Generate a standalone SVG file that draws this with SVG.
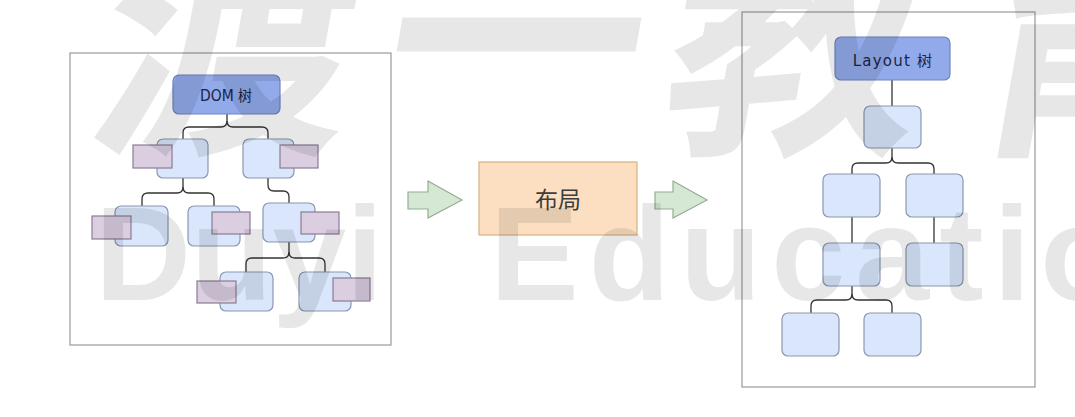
<svg xmlns="http://www.w3.org/2000/svg" width="1075" height="417" viewBox="0 0 1075 417">
  <defs>
    <style>
      .frame { fill: none; stroke: #9a9a9a; stroke-width: 1.2; }
      .node { fill: #d9e6fb; stroke: #8a98b0; stroke-width: 1.2; }
      .root { fill: #92aaea; stroke: #6e84bd; stroke-width: 1.2; }
      .attr { fill: #dacee0; stroke: #8a7c94; stroke-width: 1.2; }
      .edge { fill: none; stroke: #333; stroke-width: 1.3; }
      .arrow { fill: #d5e8d4; stroke: #94ad92; stroke-width: 1.2; }
      .proc { fill: #fcdfc1; stroke: #d6b283; stroke-width: 1.2; }
      .lbl { font-family: "DejaVu Sans", "Noto Sans CJK SC", sans-serif; fill: #1c2444; }
      .wm { fill: #000; opacity: 0.09; }
    </style>
  </defs>
  <rect width="1075" height="417" fill="#ffffff"/>

  <!-- frames -->
  <rect class="frame" x="70" y="53" width="321" height="292"/>
  <rect class="frame" x="742" y="12" width="293" height="375"/>

  <!-- connectors -->
  <g id="connectors">
    <path class="edge" d="M227,114 L227,121 Q227,127 221,127 L189,127 Q183,127 183,133 L183,139"/>
    <path class="edge" d="M227,121 Q227,127 233,127 L262,127 Q268,127 268,133 L268,139"/>
    <path class="edge" d="M183,178 L183,187 Q183,193 177,193 L148,193 Q142,193 142,199 L142,206"/>
    <path class="edge" d="M183,187 Q183,193 189,193 L208,193 Q214,193 214,199 L214,206"/>
    <path class="edge" d="M268,178 L268,185 Q268,191 274,191 L283,191 Q289,191 289,197 L289,203"/>
    <path class="edge" d="M289,242 L289,252 Q289,258 283,258 L252,258 Q246,258 246,264 L246,272"/>
    <path class="edge" d="M289,252 Q289,258 295,258 L319,258 Q325,258 325,264 L325,272"/>

    <path class="edge" d="M892,80 L892,106"/>
    <path class="edge" d="M892,148 L892,157 Q892,163 886,163 L858,163 Q852,163 852,169 L852,174"/>
    <path class="edge" d="M892,157 Q892,163 898,163 L928,163 Q934,163 934,169 L934,174"/>
    <path class="edge" d="M852,217 L852,243"/>
    <path class="edge" d="M934,217 L934,243"/>
    <path class="edge" d="M852,286 L852,294 Q852,300 846,300 L817,300 Q811,300 811,306 L811,313"/>
    <path class="edge" d="M852,294 Q852,300 858,300 L886,300 Q892,300 892,306 L892,313"/>
  </g>

  <!-- DOM tree -->
  <g id="dom-root">
    <rect class="root" x="173" y="75" width="107" height="39" rx="6"/>
    <text class="lbl" x="226" y="100.5" font-size="15" text-anchor="middle" textLength="52" lengthAdjust="spacingAndGlyphs">DOM 树</text>
  </g>
  <g id="dom-n1">
    <rect class="node" x="157" y="139" width="51" height="39" rx="6"/>
    <rect class="attr" x="133" y="145" width="39" height="23"/>
  </g>
  <g id="dom-n2">
    <rect class="node" x="243" y="139" width="51" height="39" rx="6"/>
    <rect class="attr" x="280" y="145" width="38" height="23"/>
  </g>
  <g id="dom-n3">
    <rect class="node" x="115" y="206" width="53" height="40" rx="6"/>
    <rect class="attr" x="92" y="216" width="39" height="23"/>
  </g>
  <g id="dom-n4">
    <rect class="node" x="188" y="206" width="52" height="40" rx="6"/>
    <rect class="attr" x="212" y="212" width="38" height="22"/>
  </g>
  <g id="dom-n5">
    <rect class="node" x="263" y="203" width="52" height="39" rx="6"/>
    <rect class="attr" x="301" y="212" width="38" height="22"/>
  </g>
  <g id="dom-n6">
    <rect class="node" x="220" y="272" width="53" height="39" rx="6"/>
    <rect class="attr" x="197" y="281" width="39" height="22"/>
  </g>
  <g id="dom-n7">
    <rect class="node" x="299" y="272" width="52" height="39" rx="6"/>
    <rect class="attr" x="333" y="278" width="37" height="23"/>
  </g>

  <!-- middle -->
  <g id="arrow-in">
    <polygon class="arrow" points="408,192 428,192 428,181 462,200 428,218 428,209 408,209"/>
  </g>
  <g id="layout-step">
    <rect class="proc" x="479" y="162" width="158" height="73"/>
    <text x="558" y="208" font-size="23" text-anchor="middle" font-family="'Noto Sans CJK SC', sans-serif" fill="#3d3d3d">布局</text>
  </g>
  <g id="arrow-out">
    <polygon class="arrow" points="655,192 673,192 673,181 707,200 673,218 673,209 655,209"/>
  </g>

  <!-- Layout tree -->
  <g id="layout-root">
    <rect class="root" x="835" y="37" width="115" height="43" rx="6"/>
    <text class="lbl" x="893" y="66" font-size="15" letter-spacing="1.2" text-anchor="middle">Layout 树</text>
  </g>
  <g id="layout-a"><rect class="node" x="864" y="106" width="57" height="42" rx="6"/></g>
  <g id="layout-b"><rect class="node" x="823" y="174" width="57" height="43" rx="6"/></g>
  <g id="layout-c"><rect class="node" x="906" y="174" width="57" height="43" rx="6"/></g>
  <g id="layout-d"><rect class="node" x="823" y="243" width="57" height="43" rx="6"/></g>
  <g id="layout-e"><rect class="node" x="906" y="243" width="57" height="43" rx="6"/></g>
  <g id="layout-f"><rect class="node" x="782" y="313" width="57" height="43" rx="6"/></g>
  <g id="layout-g"><rect class="node" x="864" y="313" width="57" height="43" rx="6"/></g>

  <!-- watermark -->
  <g id="watermark" class="wm">
    <text transform="translate(0,135) skewX(-10)" x="85 372 655 955" y="0" font-size="258" font-weight="700" font-family="'Noto Sans CJK SC', sans-serif">渡一教育</text>
    <text x="95" y="300" font-size="133" font-weight="700" font-family="'Liberation Sans', sans-serif">Duyi</text>
    <text x="490" y="300" font-size="133" font-weight="700" letter-spacing="10" font-family="'Liberation Sans', sans-serif">Education</text>
  </g>
</svg>
